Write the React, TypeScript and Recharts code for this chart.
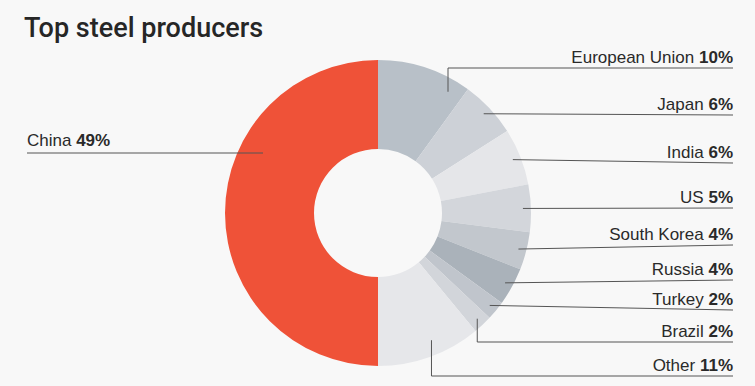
import { Cell, Pie, PieChart } from 'recharts'

const countries = ['European Union', 'Japan', 'India', 'US', 'South Korea', 'Russia', 'Turkey', 'Brazil', 'Other', 'China']
// percentages as printed in the labels
const shares = [10, 6, 6, 5, 4, 4, 2, 2, 11, 49]
// slice sizes as drawn (China fills exactly half of the ring)
const sliceValues = [10, 6, 6, 5, 4, 4, 2, 2, 11, 50]
const colors = ['#b8c0c8', '#cdd1d7', '#e5e6e9', '#d3d6db', '#c2c7cd', '#aab2ba', '#c0c5cc', '#d2d5da', '#e6e7ea', '#ef5238']

// layout for the callouts
const rowY = [68, 115, 163, 208, 245, 280, 310, 342, 376, 153]
const anchorShift = [-12, 0, 0, 0, 0, 0, 0, 0, 3, 0]
const elbowLabels = ['European Union', 'Brazil', 'Other']

const data = countries.map((name, i) => ({ name, value: sliceValues[i] }))

const RADIAN = Math.PI / 180
const FONT = '"Liberation Sans", Arial, sans-serif'

function renderLabel(props: any) {
  const { cx, cy, midAngle, index } = props
  const name = countries[index]
  const y = rowY[index]
  const isLeft = name === 'China'
  const text = (
    <text
      x={isLeft ? 27 : 733}
      y={isLeft ? y - 7 : y - 5}
      textAnchor={isLeft ? 'start' : 'end'}
      fontFamily={FONT}
      fontSize={17}
      fill="#2a2a2a"
    >
      {name} <tspan fontWeight={700}>{shares[index]}%</tspan>
    </text>
  )
  if (isLeft) {
    return (
      <g key={`l-${index}`}>
        <line x1={27} y1={y} x2={cx - 115} y2={y} stroke="#555" strokeWidth={1} />
        {text}
      </g>
    )
  }
  const r = name === 'Other' ? 138 : name === 'European Union' ? 140 : 145
  const angle = midAngle + anchorShift[index]
  const ax = cx + r * Math.cos(-angle * RADIAN)
  const ay = cy + r * Math.sin(-angle * RADIAN)
  const elbow = elbowLabels.includes(name)
  return (
    <g key={`l-${index}`}>
      {elbow ? (
        <polyline points={`${ax},${ay} ${ax},${y} 733,${y}`} fill="none" stroke="#555" strokeWidth={1} />
      ) : (
        <line x1={ax} y1={ay} x2={733} y2={y} stroke="#555" strokeWidth={1} />
      )}
      {text}
    </g>
  )
}

export default function App() {
  return (
    <div style={{ position: 'absolute', left: 0, top: 0, width: 755, height: 386, background: '#f8f8f8' }}>
      <div
        style={{
          position: 'absolute',
          left: 24,
          top: 12,
          fontFamily: 'Roboto, sans-serif',
          fontSize: 27,
          fontWeight: 500,
          color: '#262626',
          lineHeight: '32px',
        }}
      >
        Top steel producers
      </div>
      <PieChart width={755} height={386} margin={{ top: 0, right: 0, bottom: 0, left: 0 }}>
        <Pie
          data={data}
          dataKey="value"
          cx={378}
          cy={213}
          innerRadius={64}
          outerRadius={153}
          startAngle={90}
          endAngle={-270}
          stroke="none"
          label={renderLabel}
          labelLine={false}
          isAnimationActive={false}
        >
          {data.map((d, i) => (
            <Cell key={d.name} fill={colors[i]} />
          ))}
        </Pie>
      </PieChart>
    </div>
  )
}
